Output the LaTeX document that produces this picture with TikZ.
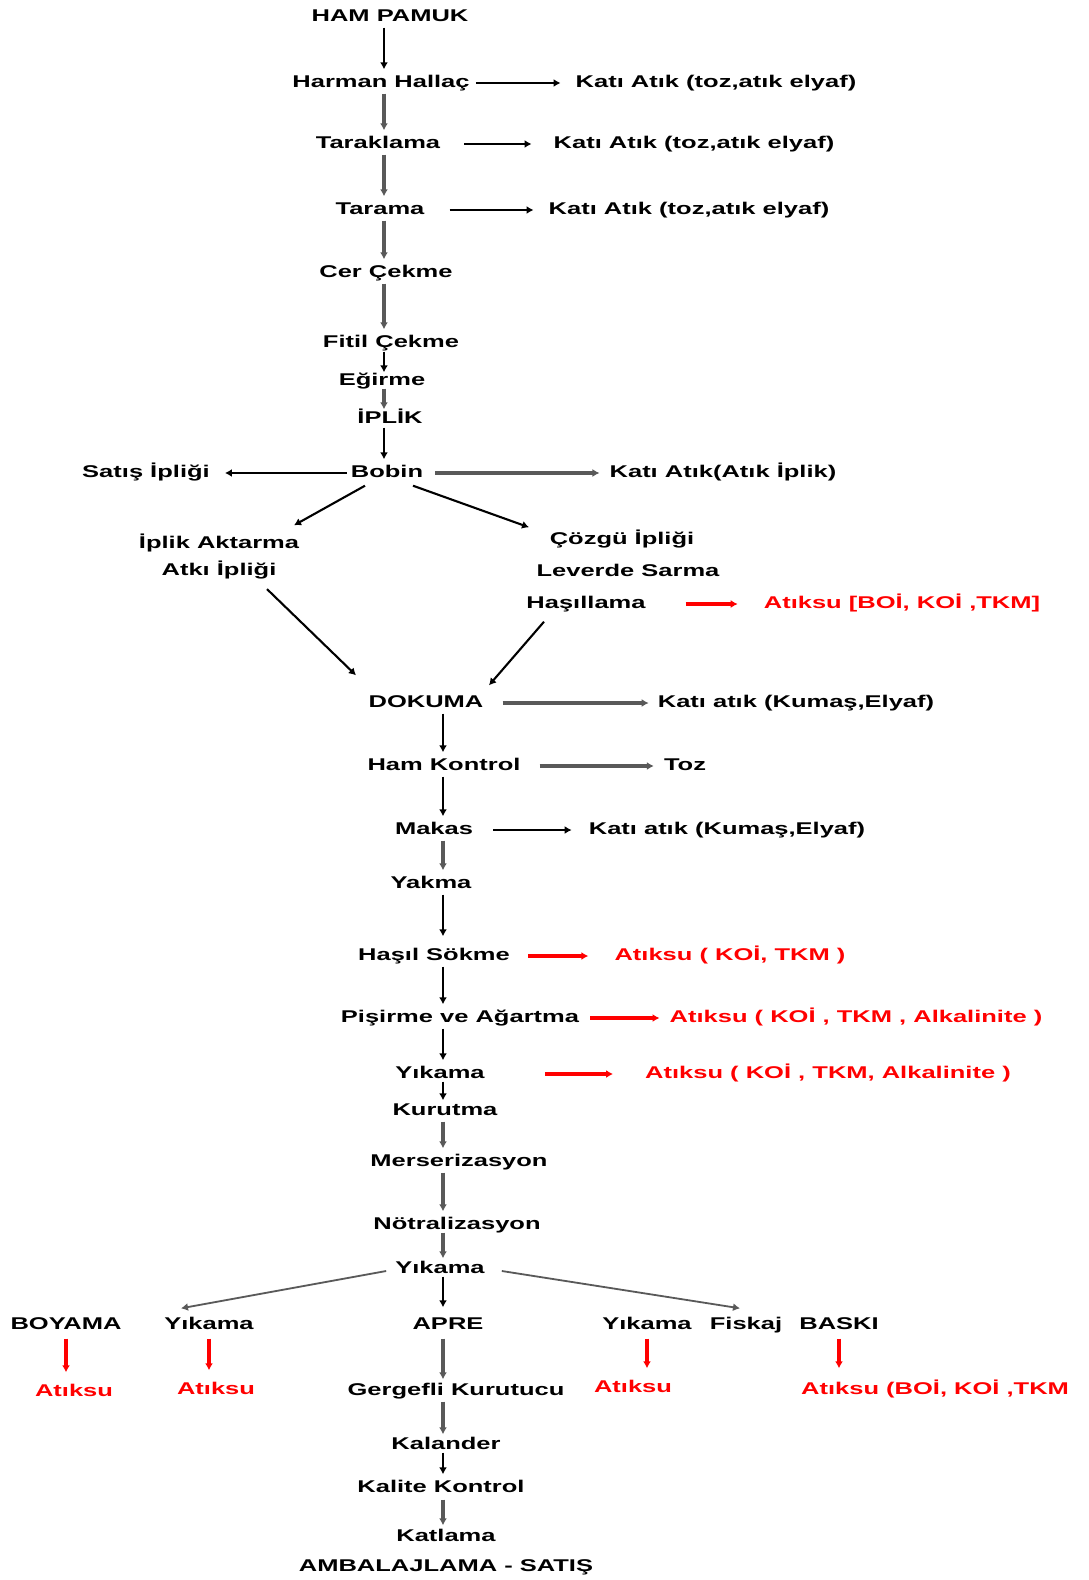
\documentclass[tikz,border=0pt]{standalone}
\usepackage{fontspec}
\setmainfont{Liberation Sans}[FakeStretch=1.5]
\usetikzlibrary{arrows.meta, positioning}

\begin{document}
\begin{tikzpicture}[
        x=1pt, y=-1pt,
        every node/.style={font=\bfseries\fontsize{17}{20}\selectfont, inner sep=0pt, text height=12pt, text depth=3pt},
        atiksu/.style={text=red},
        arrow/.style={-{Latex[length=7pt, width=8pt]}, line width=2.1pt, shorten <=3pt, shorten >=6pt},
        garrow/.style={arrow, draw=gray!70!black, line width=3.6pt},
        redarrow/.style={arrow, draw=red, line width=3.2pt},
        free/.style={shorten <=0pt, shorten >=0pt}
    ]
        \fill[white] (0,0) rectangle (1088,1580);
        \useasboundingbox (0,0) rectangle (1088,1580);
        \coordinate (colA) at (384,0);
        \coordinate (colB) at (443,0);

        % 1. Iplik hazirlama
        \node (ham) at (390,17) {HAM PAMUK};
        \node (harman) at (381,83) {Harman Hallaç};
        \node (tarak) at (378,144) {Taraklama};
        \node (tarama) at (380,210) {Tarama};
        \node (cer) at (386,273) {Cer Çekme};
        \node (fitil) at (391,343) {Fitil Çekme};
        \node (egirme) at (382,381) {Eğirme};
        \node (iplik) at (390,419) {İPLİK};
        \node (bobin) at (387,473) {Bobin};

        \node (atik1) at (716,83) {Katı Atık (toz,atık elyaf)};
        \node (atik2) at (694,144) {Katı Atık (toz,atık elyaf)};
        \node (atik3) at (689,210) {Katı Atık (toz,atık elyaf)};
        \node (satis) at (146,473) {Satış İpliği};
        \node (atik4) at (723,473) {Katı Atık(Atık İplik)};

        \draw[arrow] (ham.south -| colA) -- (harman.north -| colA);
        \draw[garrow] (harman.south -| colA) -- (tarak.north -| colA);
        \draw[garrow] (tarak.south -| colA) -- (tarama.north -| colA);
        \draw[garrow] (tarama.south -| colA) -- (cer.north -| colA);
        \draw[garrow] (cer.south -| colA) -- (fitil.north -| colA);
        \draw[arrow, shorten <=1pt, shorten >=1pt] (fitil.south -| colA) -- (egirme.north -| colA);
        \draw[garrow, shorten <=0pt, shorten >=2pt] (egirme.south -| colA) -- (iplik.north -| colA);
        \draw[arrow, shorten <=1pt] (iplik.south -| colA) -- (bobin.north -| colA);

        \draw[arrow, shorten <=6pt, shorten >=15pt] (harman) -- (atik1);
        \draw[arrow, shorten <=24pt, shorten >=22pt] (tarak) -- (atik2);
        \draw[arrow, shorten <=25pt, shorten >=15pt] (tarama) -- (atik3);
        \draw[arrow, shorten <=4pt, shorten >=15pt] (bobin) -- (satis);
        \draw[garrow, shorten <=12pt, shorten >=10pt] (bobin) -- (atik4);

        % 2. Atki ve cozgu
        \node (aktarma) at (219,544) {İplik Aktarma};
        \node[below=12pt of aktarma] (atki) {Atkı İpliği};
        \node (cozgu) at (622,540) {Çözgü İpliği};
        \node (levende) at (628,572) {Leverde Sarma};
        \node (hasil) at (586,604) {Haşıllama};
        \node[atiksu] (atiksu1) at (902,604) {Atıksu [BOİ, KOİ ,TKM]};
        \node (dokuma) at (426,703) {DOKUMA};
        \node (atik5) at (796,703) {Katı atık (Kumaş,Elyaf)};

        \draw[arrow, free] ([shift={(-22,5)}]bobin.south) -- ([shift={(75,-11)}]aktarma.north);
        \draw[arrow, free] ([shift={(26,5)}]bobin.south) -- ([shift={(-93,-5)}]cozgu.north);
        \draw[arrow, free] ([shift={(48,10)}]atki.south) -- ([shift={(-70,-20)}]dokuma.north);
        \draw[arrow, free] ([shift={(-42,10)}]hasil.south) -- ([shift={(63,-10)}]dokuma.north);
        \draw[redarrow, shorten <=40pt, shorten >=26pt] (hasil) -- (atiksu1);
        \draw[garrow, shorten <=19pt, shorten >=9pt] (dokuma) -- (atik5);

        % 3. Kumas terbiye
        \node (hamk) at (444,766) {Ham Kontrol};
        \node (toz) at (685,766) {Toz};
        \node (makas) at (434,830) {Makas};
        \node (atik6) at (727,830) {Katı atık (Kumaş,Elyaf)};
        \node (yakma) at (431,884) {Yakma};
        \node (sokme) at (434,956) {Haşıl Sökme};
        \node[atiksu] (atiksu2) at (730,956) {Atıksu ( KOİ, TKM )};
        \node (pisirme) at (460,1018) {Pişirme ve Ağartma};
        \node[atiksu] (atiksu3) at (856,1018) {Atıksu ( KOİ , TKM , Alkalinite )};
        \node (yikama1) at (440,1074) {Yıkama};
        \node[atiksu] (atiksu4) at (828,1074) {Atıksu ( KOİ , TKM, Alkalinite )};
        \node (kurutma) at (445,1111) {Kurutma};
        \node (merser) at (459,1162) {Merserizasyon};
        \node (notr) at (457,1225) {Nötralizasyon};
        \node (yikama2) at (440,1269) {Yıkama};

        \draw[arrow] (dokuma.south -| colB) -- (hamk.north -| colB);
        \draw[arrow] (hamk.south -| colB) -- (makas.north -| colB);
        \draw[garrow] (makas.south -| colB) -- (yakma.north -| colB);
        \draw[arrow, shorten >=12pt] (yakma.south -| colB) -- (sokme.north -| colB);
        \draw[arrow] (sokme.south -| colB) -- (pisirme.north -| colB);
        \draw[arrow] (pisirme.south -| colB) -- (yikama1.north -| colB);
        \draw[arrow, shorten <=0pt, shorten >=3pt] (yikama1.south -| colB) -- (kurutma.north -| colB);
        \draw[garrow] (kurutma.south -| colB) -- (merser.north -| colB);
        \draw[garrow] (merser.south -| colB) -- (notr.north -| colB);
        \draw[garrow, shorten <=0pt, shorten >=3pt] (notr.south -| colB) -- (yikama2.north -| colB);

        \draw[garrow, shorten <=19pt, shorten >=10pt] (hamk) -- (toz);
        \draw[arrow, shorten <=20pt, shorten >=17pt] (makas) -- (atik6);
        \draw[redarrow, shorten <=18pt, shorten >=26pt] (sokme) -- (atiksu2);
        \draw[redarrow, shorten <=11pt, shorten >=10pt] (pisirme) -- (atiksu3);
        \draw[redarrow, shorten <=60pt, shorten >=32pt] (yikama1) -- (atiksu4);

        % 4. Boyama, baski, apre
        \node (boyama) at (66,1325) {BOYAMA};
        \node (yikamaL) at (209,1325) {Yıkama};
        \node (apre) at (448,1325) {APRE};
        \node (yikamaR) at (647,1325) {Yıkama};
        \node (fiskaj) at (746,1325) {Fiskaj};
        \node (baski) at (839,1325) {BASKI};
        \node[atiksu] (su1) at (74,1392) {Atıksu};
        \node[atiksu] (su2) at (216,1390) {Atıksu};
        \node[atiksu] (su3) at (633,1388) {Atıksu};
        \node[atiksu, anchor=west] (su4) at (801,1390) {Atıksu (BOİ, KOİ ,TKM};

        \draw[arrow, draw=gray!70!black, line width=1.8pt, free] ([shift={(-9,2)}]yikama2.west) -- ([shift={(-28,-9)}]yikamaL.north);
        \draw[arrow, draw=gray!70!black, line width=1.8pt, free] ([shift={(17,2)}]yikama2.east) -- ([shift={(-6,-9)}]fiskaj.north);
        \draw[arrow, shorten <=0pt, shorten >=10pt] (yikama2.south -| colB) -- (apre.north -| colB);
        \draw[redarrow, shorten <=6pt, shorten >=12pt] (boyama.south) -- (boyama.south |- su1.north);
        \draw[redarrow, shorten <=6pt, shorten >=12pt] (yikamaL.south) -- (yikamaL.south |- su2.north);
        \draw[redarrow, shorten <=6pt, shorten >=12pt] (yikamaR.south) -- (yikamaR.south |- su3.north);
        \draw[redarrow, shorten <=6pt, shorten >=14pt] (baski.south) -- (baski.south |- su4.north);

        % 5. Son islemler
        \node (gergef) at (456,1391) {Gergefli Kurutucu};
        \node (kalander) at (446,1445) {Kalander};
        \node (kalite) at (441,1488) {Kalite Kontrol};
        \node (katlama) at (446,1537) {Katlama};
        \node (ambalaj) at (446,1567) {AMBALAJLAMA - SATIŞ};

        \draw[garrow, shorten <=6pt, shorten >=4pt] (apre.south -| colB) -- (gergef.north -| colB);
        \draw[garrow, shorten >=3pt] (gergef.south -| colB) -- (kalander.north -| colB);
        \draw[arrow, shorten <=0pt] (kalander.south -| colB) -- (kalite.north -| colB);
        \draw[garrow, shorten <=4pt, shorten >=4pt] (kalite.south -| colB) -- (katlama.north -| colB);
    \end{tikzpicture}
\end{document}
